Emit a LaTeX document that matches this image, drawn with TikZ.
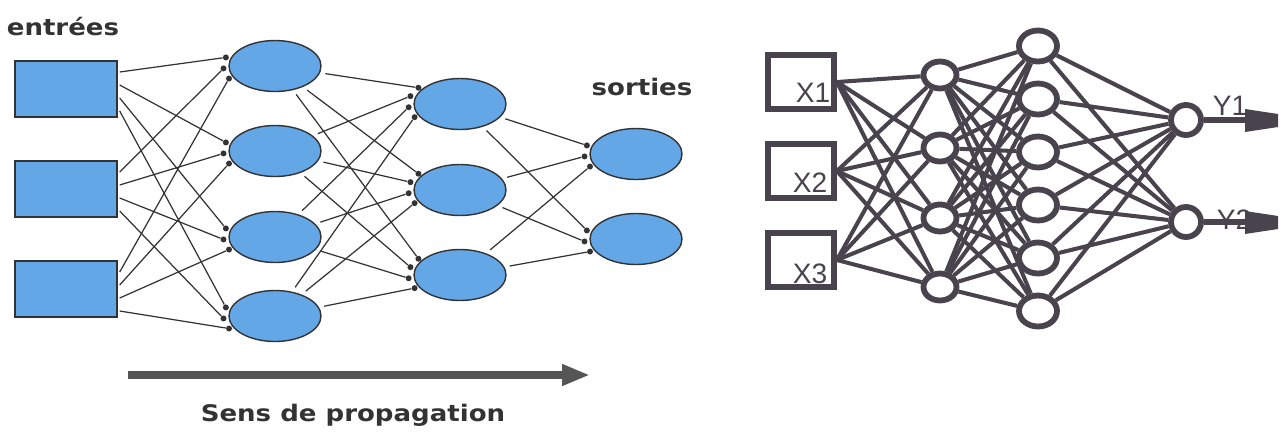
\documentclass[tikz,border=0pt]{standalone}
\usepackage{fontspec}
\setsansfont{Liberation Sans}
\newfontfamily\headfont[FakeStretch=1.14]{DejaVu Sans}
\usetikzlibrary{shapes.geometric,arrows.meta,calc}

\definecolor{cellblue}{HTML}{63A7E7}
\definecolor{inkgray}{HTML}{333333}
\definecolor{netgray}{HTML}{48434C}
\definecolor{flowgray}{HTML}{555555}

\tikzset{
  inbox/.style={rectangle, draw=inkgray, fill=cellblue, line width=0.8pt,
    minimum width=2.04cm, minimum height=1.12cm, inner sep=0},
  cell/.style={ellipse, draw=inkgray, fill=cellblue, line width=0.8pt,
    minimum width=1.84cm, minimum height=1.02cm, inner sep=0},
  syn/.style={circle, fill=inkgray, inner sep=0, minimum size=0.12cm},
  link/.style={line width=0.7pt, inkgray},
  head/.style={font=\headfont\bfseries\fontsize{13}{15}\selectfont,
    text=inkgray, anchor=base},
  xbox/.style={rectangle, draw=netgray, line width=3.3pt,
    minimum width=1.32cm, minimum height=1.08cm, inner sep=0},
  neuron/.style={ellipse, draw=netgray, fill=white, line width=3.3pt, inner sep=0},
  wire/.style={netgray, line width=2.3pt},
  varname/.style={font=\sffamily\fontsize{16}{18}\selectfont, text=netgray, inner sep=0},
}

\begin{document}
\begin{tikzpicture}[x=0.02cm, y=-0.02cm]
\useasboundingbox (0,0) rectangle (1282,434);

% left network: layers
\foreach \y [count=\i] in {89,189,289} \node[inbox] (in\i) at (66,\y) {};
\foreach \y [count=\i] in {66,151,237,316} \node[cell] (h\i) at (275,\y) {};
\foreach \y [count=\i] in {104,190,275} \node[cell] (k\i) at (460,\y) {};
\foreach \y [count=\i] in {154,239} \node[cell] (o\i) at (636,\y) {};

% inputs to first layer
\foreach \t in {1,...,4}
  \foreach \s in {1,2,3} {
    \pgfmathtruncatemacro\ang{183+14*(\s-2)}
    \pgfmathtruncatemacro\dy{-17+13*(\t-1)}
    \node[syn] (a\t\s) at ($(h\t.\ang)+(-5,0)$) {};
    \draw[link] ($(in\s.east)+(2,\dy)$) -- (a\t\s);
  }

% first layer to second layer
\foreach \t in {1,2,3}
  \foreach \s in {1,...,4} {
    \pgfmathtruncatemacro\ang{177+14*(\s-2.5)}
    \node[syn] (b\t\s) at ($(k\t.\ang)+(-5,0)$) {};
    \draw[link, shorten <=3pt] (h\s) -- (b\t\s);
  }

% second layer to outputs
\foreach \t in {1,2}
  \foreach \s in {1,2,3} {
    \pgfmathtruncatemacro\ang{183+14*(\s-2)}
    \node[syn] (c\t\s) at ($(o\t.\ang)+(-5,0)$) {};
    \draw[link, shorten <=3pt] (k\s) -- (c\t\s);
  }

\node[head] (inputs) at (63,35) {entrées};
\node[head] (outputs) at (642,95) {sorties};

% direction arrow
\coordinate (flow start) at (128,375);
\coordinate (flow end) at (590,375);
\draw[flowgray, line width=4.8pt, -{Triangle[length=0.56cm, width=0.4cm]}] (flow start) -- (flow end);
\node[head] (flow label) at (353,421) {Sens de propagation};

% right network: layers
\foreach \y [count=\i] in {82,171,260} \node[xbox] (x\i) at (801,\y) {};
\foreach \y [count=\i] in {75,148,218,287}
  \node[neuron, minimum width=0.66cm, minimum height=0.54cm] (n\i) at (940,\y) {};
\foreach \y [count=\i] in {46,99,152,205,258,311}
  \node[neuron, minimum width=0.76cm, minimum height=0.62cm] (m\i) at (1038,\y) {};
\foreach \y [count=\i] in {120,222}
  \node[neuron, minimum size=0.6cm] (y\i) at (1186,\y) {};

% weights
\foreach \s in {1,2,3} \foreach \t in {1,...,4} \draw[wire] (x\s.east) -- (n\t);
\foreach \s in {1,...,4} \foreach \t in {1,...,6} \draw[wire] (n\s) -- (m\t);
\foreach \s in {1,...,6} \foreach \t in {1,2} \draw[wire] (m\s) -- (y\t);

\node[varname] (x1 name) at (813,93) {X1};
\node[varname] (x2 name) at (810,183) {X2};
\node[varname] (x3 name) at (810,274) {X3};
\node[varname] (y1 name) at (1230,106) {Y1};
\node[varname] (y2 name) at (1234,220) {Y2};

% output arrows
\foreach \i in {1,2} {
  \coordinate (y\i tip) at ($(y\i)+(59,0)$);
  \draw[wire, line width=3pt] (y\i) -- (y\i tip);
  \fill[netgray] ($(y\i tip)+(0,-11)$) -- ++(33,5) -- ++(0,13) -- ++(-33,5) -- cycle;
}

\end{tikzpicture}
\end{document}
